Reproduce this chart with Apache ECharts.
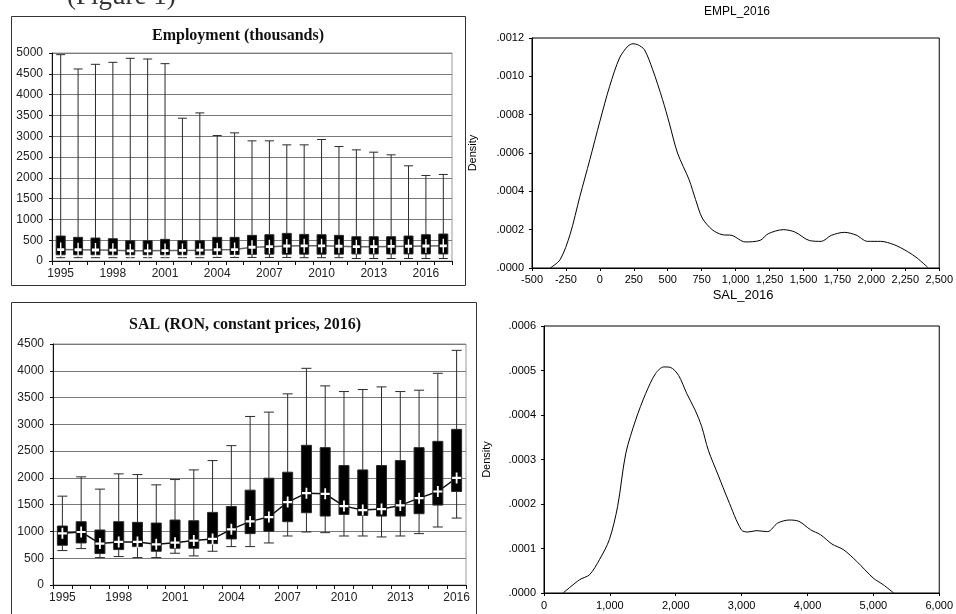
<!DOCTYPE html>
<html>
<head>
<meta charset="utf-8">
<script src="https://cdn.jsdelivr.net/npm/echarts@6/dist/echarts.min.js"></script>
<style>
html,body{margin:0;padding:0;background:#fff;}
#chart{width:956px;height:614px;}
</style>
</head>
<body>
<div id="chart"></div>
<script>
// ---------- Employment (thousands) box plots ----------
const empYears = ['1995','1996','1997','1998','1999','2000','2001','2002','2003','2004','2005','2006','2007','2008','2009','2010','2011','2012','2013','2014','2015','2016','2017'];
const empMax  = [4960,4616,4728,4776,4872,4856,4744,3432,3560,3016,3080,2888,2888,2792,2792,2920,2752,2672,2616,2552,2288,2056,2080];
const empQ3   = [600,568,552,536,488,488,520,488,488,568,568,616,632,664,640,632,616,584,584,584,600,632,648];
const empQ1   = [150,150,150,150,150,150,150,150,150,155,155,160,165,165,165,165,165,170,170,170,170,170,170];
const empMin  = [80,80,80,80,80,80,80,80,80,85,85,85,85,85,80,80,80,60,60,60,60,60,60];
const empMean = [275,270,265,260,245,245,250,255,260,270,275,330,345,360,365,365,355,345,345,350,355,360,365];

// ---------- SAL (RON, constant prices, 2016) box plots ----------
const salYears = ['1995','1996','1997','1998','1999','2000','2001','2002','2003','2004','2005','2006','2007','2008','2009','2010','2011','2012','2013','2014','2015','2016'];
const salMax  = [1659,2019,1790,2075,2062,1870,1969,2149,2323,2602,3147,3228,3569,4046,3718,3612,3650,3699,3612,3637,3953,4382];
const salQ3   = [1101,1182,1027,1182,1170,1157,1213,1200,1356,1467,1771,1994,2106,2608,2565,2230,2149,2230,2323,2565,2682,2906];
const salQ1   = [742,785,587,661,717,630,686,686,773,860,959,1002,1182,1349,1287,1318,1300,1287,1287,1331,1492,1746];
const salMean = [965,990,773,804,804,760,791,829,860,1039,1188,1269,1548,1715,1703,1473,1399,1418,1486,1622,1746,2000];
const salMin  = [643,680,512,531,512,512,593,543,630,717,717,785,915,990,977,915,915,897,915,959,1083,1250];

// ---------- Kernel density EMPL_2016 ----------
const emplX = [-366,-293,-220,-147,-74,0,72,145,206,243,279,328,389,462,511,572,657,705,754,827,900,973,1071,1180,1241,1351,1436,1545,1631,1704,1801,1887,1972,2069,2166,2264,2337,2415];
const emplY = [0,0.0000435,0.000174,0.000374,0.000565,0.000765,0.000948,0.001096,0.001157,0.00117,0.001165,0.001139,0.001035,0.000878,0.000757,0.0006,0.000461,0.000357,0.000261,0.0002,0.000174,0.00017,0.000136,0.000144,0.000179,0.0002,0.000188,0.000143,0.000139,0.00017,0.000186,0.000172,0.000139,0.000139,0.000122,0.000087,0.000052,0.0000035];

// ---------- Kernel density SAL_2016 ----------
const salDX = [290,541,691,841,992,1117,1242,1392,1543,1693,1818,1918,2043,2168,2294,2394,2494,2644,2795,2995,3095,3220,3396,3546,3721,3871,4047,4197,4372,4548,4748,4998,5149,5309];
const salDY = [0,0.0000299,0.000041,0.0000747,0.00012,0.000194,0.000314,0.000389,0.000448,0.000493,0.000508,0.000507,0.000489,0.000448,0.000411,0.000374,0.000321,0.000265,0.000209,0.000142,0.000137,0.00014,0.000138,0.000157,0.000164,0.000161,0.000142,0.000131,0.00011,0.0000971,0.000071,0.0000336,0.0000187,0];

const densityTicks = v => v.toFixed(4).replace(/^0/, '');
const commaFmt = v => String(v).replace(/\B(?=(\d{3})+(?!\d))/g, ',');
const plainFmt = v => String(v);

const chart = echarts.init(document.getElementById('chart'), null, {renderer: 'canvas'});

const SANS = "'Liberation Sans', sans-serif";
const sansLbl = {fontFamily: SANS, fontSize: 12, color: '#222'};
const densLbl = {fontFamily: SANS, fontSize: 11, color: '#000'};
const crossPath = 'path://M4,0H6V4H10V6H6V10H4V6H0V4H4Z';

function catAxis(idx, data) {
  return {
    type: 'category', gridIndex: idx, data: data, boundaryGap: true,
    axisLine: {show: true, lineStyle: {color: '#111', width: 1}},
    axisTick: {show: true, interval: 0, length: 4, lineStyle: {color: '#111'}},
    axisLabel: Object.assign({interval: 2, margin: 7}, sansLbl),
    splitLine: {show: false}
  };
}
function boxYAxis(idx, max) {
  return {
    type: 'value', gridIndex: idx, min: 0, max: max, interval: 500,
    axisLine: {show: true, onZero: false, lineStyle: {color: '#111', width: 1}},
    axisTick: {show: true, length: 3, lineStyle: {color: '#111'}},
    axisLabel: Object.assign({margin: 9, formatter: plainFmt}, sansLbl),
    splitLine: {show: true, lineStyle: {color: '#7a7a7a', width: 1}}
  };
}
function densYAxis(idx, max, interval, gap) {
  return {
    type: 'value', gridIndex: idx, min: 0, max: max, interval: interval,
    name: 'Density', nameLocation: 'middle', nameGap: gap, nameRotate: 90,
    nameTextStyle: {fontFamily: SANS, fontSize: 11, color: '#000'},
    axisLine: {show: true, onZero: false, lineStyle: {color: '#000'}},
    axisTick: {show: true, length: 3, lineStyle: {color: '#000'}},
    axisLabel: Object.assign({margin: 8, formatter: densityTicks}, densLbl),
    splitLine: {show: false}
  };
}
function densXAxis(idx, min, max, interval, margin) {
  return {
    type: 'value', gridIndex: idx, min: min, max: max, interval: interval,
    axisLine: {show: true, onZero: false, lineStyle: {color: '#000'}},
    axisTick: {show: true, length: 3, lineStyle: {color: '#000'}},
    axisLabel: Object.assign({margin: margin, formatter: commaFmt, showMaxLabel: true, showMinLabel: true}, densLbl),
    splitLine: {show: false}
  };
}

const option = {
  animation: false,
  backgroundColor: '#fff',
  graphic: [
    {type: 'rect', shape: {x: 11.5, y: 16.5, width: 454, height: 269}, style: {fill: 'none', stroke: '#333', lineWidth: 1}, silent: true},
    {type: 'rect', shape: {x: 11.5, y: 302.5, width: 465, height: 330}, style: {fill: 'none', stroke: '#333', lineWidth: 1}, silent: true},
    {type: 'text', x: 238, y: 36, style: {text: 'Employment (thousands)', font: "bold 16px 'Liberation Serif', serif", fill: '#111', align: 'center', verticalAlign: 'middle'}},
    {type: 'text', x: 245, y: 325, style: {text: 'SAL (RON, constant prices, 2016)', font: "bold 16px 'Liberation Serif', serif", fill: '#111', align: 'center', verticalAlign: 'middle'}},
    {type: 'text', x: 67, y: 10, style: {text: '(Figure 1)', font: "27px 'Liberation Serif', serif", fill: '#333', align: 'left', verticalAlign: 'bottom'}},
    {type: 'text', x: 737, y: 12, style: {text: 'EMPL_2016', font: "12px 'Liberation Sans', sans-serif", fill: '#000', align: 'center', verticalAlign: 'middle'}},
    {type: 'text', x: 743, y: 295, style: {text: 'SAL_2016', font: "13px 'Liberation Sans', sans-serif", fill: '#000', align: 'center', verticalAlign: 'middle'}}
  ],
  grid: [
    {left: 52, top: 53, width: 400, height: 208, show: true, borderColor: '#999', borderWidth: 1, backgroundColor: 'transparent'},
    {left: 53, top: 344, width: 413, height: 241, show: true, borderColor: '#999', borderWidth: 1, backgroundColor: 'transparent'},
    {left: 532, top: 38, width: 410, height: 230, show: true, borderColor: '#000', borderWidth: 1, backgroundColor: 'transparent'},
    {left: 544, top: 326, width: 399, height: 267, show: true, borderColor: '#000', borderWidth: 1, backgroundColor: 'transparent'}
  ],
  xAxis: [
    catAxis(0, empYears),
    catAxis(1, salYears),
    densXAxis(2, -500, 2500, 250, 6),
    densXAxis(3, 0, 6000, 1000, 7)
  ],
  yAxis: [
    boxYAxis(0, 5000),
    boxYAxis(1, 4500),
    densYAxis(2, 0.0012, 0.0002, 54),
    densYAxis(3, 0.0006, 0.0001, 52)
  ],
  series: [
    {type: 'line', xAxisIndex: 0, yAxisIndex: 0, data: empMean, symbol: 'none', z: 2,
     lineStyle: {color: '#666', width: 1.5}},
    {type: 'boxplot', xAxisIndex: 0, yAxisIndex: 0, z: 3, boxWidth: [9, 9],
     data: empYears.map((_, i) => [empMin[i], empQ1[i], empMean[i], empQ3[i], empMax[i]]),
     itemStyle: {color: '#000', borderColor: '#2a2a2a', borderWidth: 1}, emphasis: {disabled: true}},
    {type: 'scatter', xAxisIndex: 0, yAxisIndex: 0, z: 4, data: empMean, symbol: crossPath, symbolSize: [7, 14],
     itemStyle: {color: '#fff', opacity: 1}, emphasis: {disabled: true}},

    {type: 'line', xAxisIndex: 1, yAxisIndex: 1, data: salMean, symbol: 'none', z: 2,
     lineStyle: {color: '#111', width: 1.5}},
    {type: 'boxplot', xAxisIndex: 1, yAxisIndex: 1, z: 3, boxWidth: [10, 10],
     data: salYears.map((_, i) => [salMin[i], salQ1[i], salMean[i], salQ3[i], salMax[i]]),
     itemStyle: {color: '#000', borderColor: '#2a2a2a', borderWidth: 1}, emphasis: {disabled: true}},
    {type: 'scatter', xAxisIndex: 1, yAxisIndex: 1, z: 4, data: salMean, symbol: crossPath, symbolSize: [9, 11],
     itemStyle: {color: '#fff', opacity: 1}, emphasis: {disabled: true}},

    {type: 'line', xAxisIndex: 2, yAxisIndex: 2, data: emplX.map((x, i) => [x, emplY[i]]), symbol: 'none', smooth: 0.3,
     lineStyle: {color: '#000', width: 1}},
    {type: 'line', xAxisIndex: 3, yAxisIndex: 3, data: salDX.map((x, i) => [x, salDY[i]]), symbol: 'none', smooth: 0.3,
     lineStyle: {color: '#000', width: 1}}
  ]
};
chart.setOption(option);
</script>
</body>
</html>
